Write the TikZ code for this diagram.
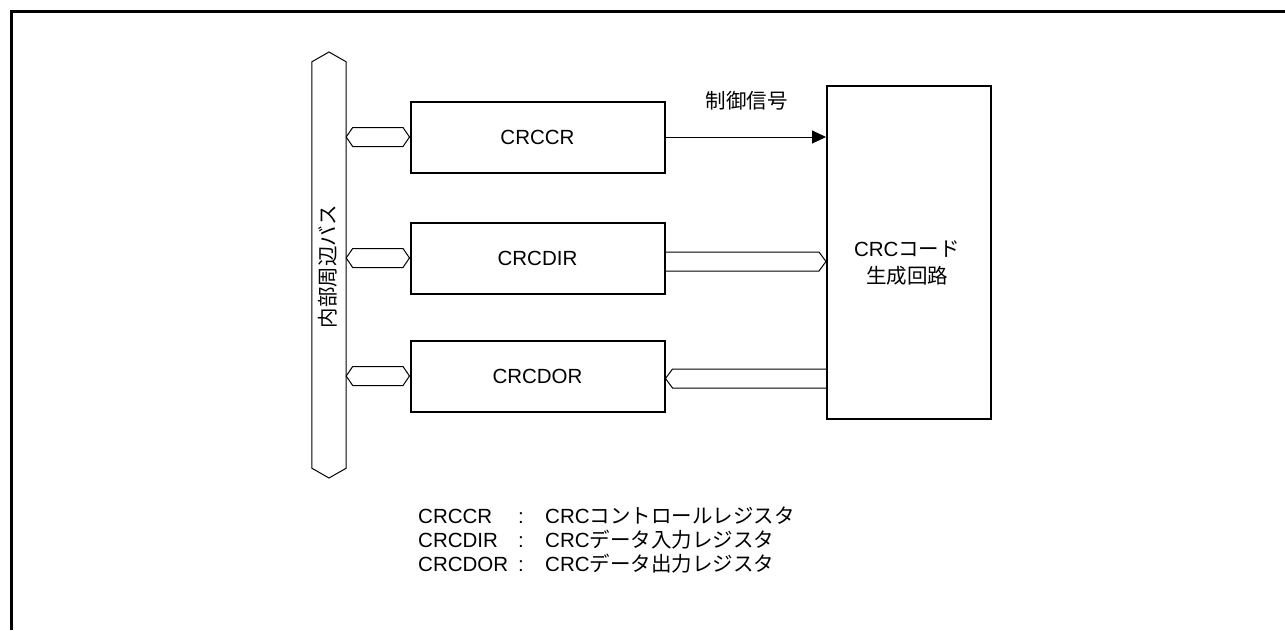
\documentclass[tikz,border=0pt]{standalone}
\usepackage{fontspec}
\setmainfont{Liberation Sans}
\newfontfamily\jp{Noto Sans CJK JP}
\usetikzlibrary{arrows.meta,calc}
\begin{document}
\begin{tikzpicture}[x=1pt,y=-1pt,
  font=\fontsize{20.5}{24}\selectfont,
  regbox/.style={draw, line width=2pt, minimum width=254pt, minimum height=71pt, inner sep=0pt},
  busline/.style={draw, line width=1pt, line join=miter},
  legend/.style={anchor=base west, inner sep=0pt},
  jptext/.style={font=\jp\fontsize{20.5}{24}\selectfont}]
\useasboundingbox (0,0) rectangle (1285,630);
% frame
\draw[line width=3pt] (11,630) -- (11,11) -- (1285,11);
% internal bus
\node[inner sep=0pt, minimum width=34pt, minimum height=406pt] (bus) at (329,265) {};
\draw[busline] (bus.north west) -- (329,52) -- (bus.north east) -- (bus.south east) -- (329,478) -- (bus.south west) -- cycle;
\node[rotate=90, jptext] (buslabel) at (327.5,266.5) {内部周辺バス};
% registers
\node[regbox] (ccr) at (537.5,137) {CRCCR};
\node[regbox] (dir) at (537.5,258) {CRCDIR};
\node[regbox] (dor) at (537.5,376) {CRCDOR};
% generator
\node[draw, line width=2pt, minimum width=164pt, minimum height=333pt, inner sep=0pt] (gen) at (909,252.5) {};
\node[align=center, font=\fontsize{20.5}{27}\selectfont] (gentext) at (907,262.5) {CRC{\jp コード}\\{\jp 生成回路}};
% bus connectors
\foreach \b in {ccr,dir,dor}{
  \draw[busline] (\b.west -| bus.east) -- ($(\b.west -| bus.east)+(6.5,-9.5)$) -- ($(\b.west)+(-6.5,-9.5)$) -- (\b.west) -- ($(\b.west)+(-6.5,9.5)$) -- ($(\b.west -| bus.east)+(6.5,9.5)$) -- cycle;
}
% control signal
\draw[line width=1pt, -{Triangle[length=14pt,width=13pt]}] (ccr.east) -- (ccr.east -| gen.west);
\node[jptext] (ctl) at (746.5,101) {制御信号};
% data in
\draw[busline] ($(dir.east)+(0,-6)$) -- ($(dir.east -| gen.west)+(-7,-6)$) -- ($(dir.east -| gen.west)+(0,3.5)$) -- ($(dir.east -| gen.west)+(-7,13)$) -- ($(dir.east)+(0,13)$);
% data out
\draw[busline] ($(dor.east -| gen.west)+(0,-7)$) -- ($(dor.east)+(7,-7)$) -- ($(dor.east)+(0,2.5)$) -- ($(dor.east)+(7,12)$) -- ($(dor.east -| gen.west)+(0,12)$);
% legend
\node[legend] (l1a) at (418,523.5) {CRCCR};
\node[anchor=base, inner sep=0pt] (l1b) at (521,523.5) {:};
\node[legend] (l1c) at (545,523.5) {CRC{\jp コントロールレジスタ}};
\node[legend] (l2a) at (418,547) {CRCDIR};
\node[anchor=base, inner sep=0pt] (l2b) at (521,547) {:};
\node[legend] (l2c) at (545,547) {CRC{\jp データ入力レジスタ}};
\node[legend] (l3a) at (418,571.5) {CRCDOR};
\node[anchor=base, inner sep=0pt] (l3b) at (521,571.5) {:};
\node[legend] (l3c) at (545,571.5) {CRC{\jp データ出力レジスタ}};
\end{tikzpicture}
\end{document}
